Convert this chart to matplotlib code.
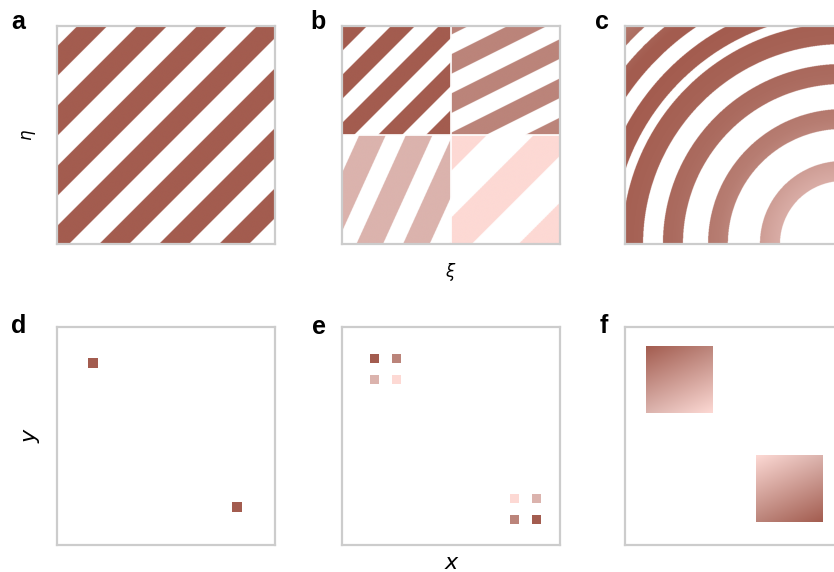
import numpy as np
import matplotlib
matplotlib.use("Agg")
import matplotlib.pyplot as plt
from matplotlib.colors import to_rgb

# colours, dark -> lightest
palette = ["#a35c4f", "#bb847a", "#dbb3ad", "#fdd9d4"]
frame_color = "#cccccc"

# panel a: one set of straight stripes (panel units, 0..1)
a_slope = 1.0
a_period = 0.275
a_phase = 0.193
a_duty = 0.5

# panel b: four quadrants, each with its own stripes
b_x0 = [0.0, 0.5, 0.0, 0.5]
b_y0 = [0.5, 0.5, 0.0, 0.0]
b_slopes = [1.0, 0.5, 2.2, 1.0]
b_periods = [0.22, 0.36, 0.214, 0.43]
b_phases = [0.105, 0.2, 0.066, 0.38]
b_duty = [0.5, 0.5, 0.57, 0.5]
b_colors = palette

# panel c: rings around the lower right corner
c_ring_inner = [0.289, 0.528, 0.734, 0.917, 1.055, 1.202, 1.349]
c_ring_outer = [0.381, 0.619, 0.826, 1.014, 1.133, 1.289, 1.431]
c_shade_r = [0.0, 0.3, 0.57, 0.78, 0.96, 1.1, 1.25, 1.42]
c_shade_col = ["#f0c8c2", "#d8aba4", "#b77d72", "#ab6b5f", "#a66255",
               "#a45d50", "#a35c4f", "#b37a6e"]

# panel d: two single points
d_x = [0.166, 0.826]
d_y = [0.835, 0.176]

# panel e: two 2x2 groups of points
e_x = [0.147, 0.248, 0.147, 0.248, 0.793, 0.893, 0.793, 0.893]
e_y = [0.857, 0.857, 0.758, 0.758, 0.215, 0.215, 0.117, 0.117]
e_colors = [palette[0], palette[1], palette[2], palette[3],
            palette[3], palette[2], palette[1], palette[0]]

# panel f: two shaded squares (corner colours TL, TR, BL, BR)
f_x0 = [0.096, 0.6]
f_y0 = [0.606, 0.106]
f_size = 0.303
f_corners = [[palette[0], palette[1], palette[2], palette[3]],
             [palette[3], palette[2], palette[1], palette[0]]]

W, H = 834, 572
N = 700


def axes_at(left, top, size=218):
    ax = fig.add_axes([left / W, 1 - (top + size) / H, size / W, size / H])
    ax.set_xlim(0, 1)
    ax.set_ylim(0, 1)
    ax.set_xticks([])
    ax.set_yticks([])
    for s in ax.spines.values():
        s.set_color(frame_color)
        s.set_linewidth(1.6)
    return ax


def stripes(X, Y, slope, period, phase, duty):
    return np.mod((X - Y / slope - phase) / period, 1.0) < duty


fig = plt.figure(figsize=(W / 100, H / 100), dpi=100)

g = (np.arange(N) + 0.5) / N
X, Y = np.meshgrid(g, g)

# a
ax = axes_at(57, 26)
img = np.ones((N, N, 3))
img[stripes(X, Y, a_slope, a_period, a_phase, a_duty)] = to_rgb(palette[0])
ax.imshow(img, extent=(0, 1, 0, 1), origin="lower", aspect="auto")
ax.set_ylabel(r"$\eta$", fontsize=12, labelpad=14)

# b
ax = axes_at(342, 26)
img = np.ones((N, N, 3))
for i in range(4):
    inq = (X >= b_x0[i]) & (X < b_x0[i] + 0.5) & (Y >= b_y0[i]) & (Y < b_y0[i] + 0.5)
    m = inq & stripes(X, Y, b_slopes[i], b_periods[i], b_phases[i], b_duty[i])
    img[m] = to_rgb(b_colors[i])
ax.imshow(img, extent=(0, 1, 0, 1), origin="lower", aspect="auto")
ax.axvline(0.5, color="white", lw=1.2)
ax.axhline(0.5, color="white", lw=1.2)
ax.set_xlabel(r"$\xi$", fontsize=12, labelpad=12)

# c
ax = axes_at(625, 26)
r = np.hypot(X - 1, Y)
ring = np.zeros_like(r, dtype=bool)
for lo, hi in zip(c_ring_inner, c_ring_outer):
    ring |= (r >= lo) & (r < hi)
stops = np.array([to_rgb(c) for c in c_shade_col])
img = np.ones((N, N, 3))
for k in range(3):
    ch = np.interp(r, c_shade_r, stops[:, k])
    img[..., k] = np.where(ring, ch, 1.0)
ax.imshow(img, extent=(0, 1, 0, 1), origin="lower", aspect="auto")

# d
ax = axes_at(57, 327)
ax.scatter(d_x, d_y, marker="s", s=42, color=palette[0], linewidths=0)
ax.set_ylabel("y", fontsize=16, style="italic", labelpad=12)

# e
ax = axes_at(342, 327)
ax.scatter(e_x, e_y, marker="s", s=42, c=e_colors, linewidths=0)
ax.set_xlabel("x", fontsize=16, style="italic", labelpad=6)

# f
ax = axes_at(625, 327)
u = np.linspace(0, 1, 120)
U, V = np.meshgrid(u, u)
for x0, y0, cols in zip(f_x0, f_y0, f_corners):
    tl, tr, bl, br = [np.array(to_rgb(c)) for c in cols]
    sq = (bl * ((1 - U) * (1 - V))[..., None] + br * (U * (1 - V))[..., None]
          + tl * ((1 - U) * V)[..., None] + tr * (U * V)[..., None])
    ax.imshow(sq, extent=(x0, x0 + f_size, y0, y0 + f_size), origin="lower", aspect="auto")
ax.set_xlim(0, 1)
ax.set_ylim(0, 1)

# panel letters
for lab, x, y in [("a", 11, 29), ("b", 310, 29), ("c", 595, 29),
                  ("d", 11, 333), ("e", 312, 334), ("f", 600, 333)]:
    fig.text(x / W, 1 - y / H, lab, fontsize=18, fontweight="bold",
             family="Liberation Sans", ha="left", va="baseline")

fig.savefig("out.png", dpi=100)
